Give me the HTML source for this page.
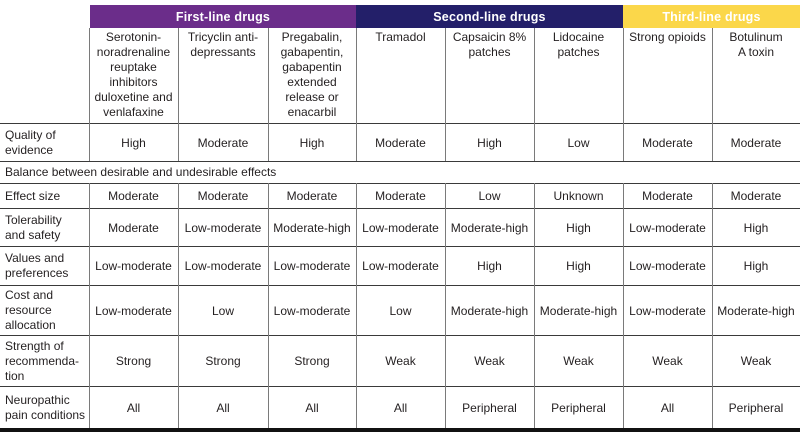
<!DOCTYPE html>
<html>
<head>
<meta charset="utf-8">
<style>
  html,body{margin:0;padding:0;background:#fff;}
  body{width:800px;height:438px;position:relative;overflow:hidden;
       font-family:"Liberation Sans",sans-serif;font-size:12px;color:#231f20;}
  .band{position:absolute;top:5px;height:23px;color:#fff;font-weight:bold;font-size:12.5px;
        display:flex;align-items:center;justify-content:center;letter-spacing:0.2px;}
  .h{position:absolute;height:1px;background:#3a3a3a;left:0;width:800px;}
  .v{position:absolute;width:1px;background:#7a7a7a;}
  .hc{position:absolute;top:30px;text-align:center;line-height:15px;white-space:nowrap;}
  .lab{position:absolute;left:5px;line-height:15px;white-space:nowrap;display:flex;align-items:center;}
  .c{position:absolute;display:flex;align-items:center;justify-content:center;white-space:nowrap;}
</style>
</head>
<body>
<!-- header bands -->
<div class="band" style="left:90px;width:266px;background:#6b2d8a;">First-line drugs</div>
<div class="band" style="left:356px;width:267px;background:#231f69;">Second-line drugs</div>
<div class="band" style="left:623px;width:177px;background:#fbd74a;">Third-line drugs</div>

<!-- horizontal lines -->
<div class="h" style="top:123px;"></div>
<div class="h" style="top:161px;"></div>
<div class="h" style="top:183px;"></div>
<div class="h" style="top:208px;"></div>
<div class="h" style="top:246px;"></div>
<div class="h" style="top:285px;"></div>
<div class="h" style="top:335px;"></div>
<div class="h" style="top:386px;"></div>
<div class="h" style="top:428px;height:4px;background:#111;"></div>

<!-- vertical lines -->
<div class="v" style="left:89px;top:28px;height:133px;"></div>
<div class="v" style="left:178px;top:28px;height:133px;"></div>
<div class="v" style="left:268px;top:28px;height:133px;"></div>
<div class="v" style="left:356px;top:28px;height:133px;"></div>
<div class="v" style="left:445px;top:28px;height:133px;"></div>
<div class="v" style="left:534px;top:28px;height:133px;"></div>
<div class="v" style="left:623px;top:28px;height:133px;"></div>
<div class="v" style="left:712px;top:28px;height:133px;"></div>

<div class="v" style="left:89px;top:183px;height:245px;"></div>
<div class="v" style="left:178px;top:183px;height:245px;"></div>
<div class="v" style="left:268px;top:183px;height:245px;"></div>
<div class="v" style="left:356px;top:183px;height:245px;"></div>
<div class="v" style="left:445px;top:183px;height:245px;"></div>
<div class="v" style="left:534px;top:183px;height:245px;"></div>
<div class="v" style="left:623px;top:183px;height:245px;"></div>
<div class="v" style="left:712px;top:183px;height:245px;"></div>

<!-- header cells -->
<div class="hc" style="left:89px;width:89px;">Serotonin-<br>noradrenaline<br>reuptake<br>inhibitors<br>duloxetine and<br>venlafaxine</div>
<div class="hc" style="left:178px;width:90px;">Tricyclin anti-<br>depressants</div>
<div class="hc" style="left:268px;width:88px;">Pregabalin,<br>gabapentin,<br>gabapentin<br>extended<br>release or<br>enacarbil</div>
<div class="hc" style="left:356px;width:89px;">Tramadol</div>
<div class="hc" style="left:445px;width:89px;">Capsaicin 8%<br>patches</div>
<div class="hc" style="left:534px;width:89px;">Lidocaine<br>patches</div>
<div class="hc" style="left:623px;width:89px;">Strong opioids</div>
<div class="hc" style="left:712px;width:88px;">Botulinum<br>A toxin</div>

<!-- left labels -->
<div class="lab" style="top:124px;height:37px;">Quality of<br>evidence</div>
<div class="lab" style="top:161px;height:22px;">Balance between desirable and undesirable effects</div>
<div class="lab" style="top:184px;height:24px;">Effect size</div>
<div class="lab" style="top:209px;height:37px;">Tolerability<br>and safety</div>
<div class="lab" style="top:247px;height:38px;">Values and<br>preferences</div>
<div class="lab" style="top:286px;height:49px;">Cost and<br>resource<br>allocation</div>
<div class="lab" style="top:336px;height:50px;">Strength of<br>recommenda-<br>tion</div>
<div class="lab" style="top:387px;height:41px;">Neuropathic<br>pain conditions</div>

<!-- Quality of evidence -->
<div class="c" style="left:89px;width:89px;top:124px;height:37px;">High</div>
<div class="c" style="left:178px;width:90px;top:124px;height:37px;">Moderate</div>
<div class="c" style="left:268px;width:88px;top:124px;height:37px;">High</div>
<div class="c" style="left:356px;width:89px;top:124px;height:37px;">Moderate</div>
<div class="c" style="left:445px;width:89px;top:124px;height:37px;">High</div>
<div class="c" style="left:534px;width:89px;top:124px;height:37px;">Low</div>
<div class="c" style="left:623px;width:89px;top:124px;height:37px;">Moderate</div>
<div class="c" style="left:712px;width:88px;top:124px;height:37px;">Moderate</div>

<!-- Effect size -->
<div class="c" style="left:89px;width:89px;top:184px;height:24px;">Moderate</div>
<div class="c" style="left:178px;width:90px;top:184px;height:24px;">Moderate</div>
<div class="c" style="left:268px;width:88px;top:184px;height:24px;">Moderate</div>
<div class="c" style="left:356px;width:89px;top:184px;height:24px;">Moderate</div>
<div class="c" style="left:445px;width:89px;top:184px;height:24px;">Low</div>
<div class="c" style="left:534px;width:89px;top:184px;height:24px;">Unknown</div>
<div class="c" style="left:623px;width:89px;top:184px;height:24px;">Moderate</div>
<div class="c" style="left:712px;width:88px;top:184px;height:24px;">Moderate</div>

<!-- Tolerability -->
<div class="c" style="left:89px;width:89px;top:209px;height:37px;">Moderate</div>
<div class="c" style="left:178px;width:90px;top:209px;height:37px;">Low-moderate</div>
<div class="c" style="left:268px;width:88px;top:209px;height:37px;">Moderate-high</div>
<div class="c" style="left:356px;width:89px;top:209px;height:37px;">Low-moderate</div>
<div class="c" style="left:445px;width:89px;top:209px;height:37px;">Moderate-high</div>
<div class="c" style="left:534px;width:89px;top:209px;height:37px;">High</div>
<div class="c" style="left:623px;width:89px;top:209px;height:37px;">Low-moderate</div>
<div class="c" style="left:712px;width:88px;top:209px;height:37px;">High</div>

<!-- Values -->
<div class="c" style="left:89px;width:89px;top:247px;height:38px;">Low-moderate</div>
<div class="c" style="left:178px;width:90px;top:247px;height:38px;">Low-moderate</div>
<div class="c" style="left:268px;width:88px;top:247px;height:38px;">Low-moderate</div>
<div class="c" style="left:356px;width:89px;top:247px;height:38px;">Low-moderate</div>
<div class="c" style="left:445px;width:89px;top:247px;height:38px;">High</div>
<div class="c" style="left:534px;width:89px;top:247px;height:38px;">High</div>
<div class="c" style="left:623px;width:89px;top:247px;height:38px;">Low-moderate</div>
<div class="c" style="left:712px;width:88px;top:247px;height:38px;">High</div>

<!-- Cost -->
<div class="c" style="left:89px;width:89px;top:286px;height:49px;">Low-moderate</div>
<div class="c" style="left:178px;width:90px;top:286px;height:49px;">Low</div>
<div class="c" style="left:268px;width:88px;top:286px;height:49px;">Low-moderate</div>
<div class="c" style="left:356px;width:89px;top:286px;height:49px;">Low</div>
<div class="c" style="left:445px;width:89px;top:286px;height:49px;">Moderate-high</div>
<div class="c" style="left:534px;width:89px;top:286px;height:49px;">Moderate-high</div>
<div class="c" style="left:623px;width:89px;top:286px;height:49px;">Low-moderate</div>
<div class="c" style="left:712px;width:88px;top:286px;height:49px;">Moderate-high</div>

<!-- Strength -->
<div class="c" style="left:89px;width:89px;top:336px;height:50px;">Strong</div>
<div class="c" style="left:178px;width:90px;top:336px;height:50px;">Strong</div>
<div class="c" style="left:268px;width:88px;top:336px;height:50px;">Strong</div>
<div class="c" style="left:356px;width:89px;top:336px;height:50px;">Weak</div>
<div class="c" style="left:445px;width:89px;top:336px;height:50px;">Weak</div>
<div class="c" style="left:534px;width:89px;top:336px;height:50px;">Weak</div>
<div class="c" style="left:623px;width:89px;top:336px;height:50px;">Weak</div>
<div class="c" style="left:712px;width:88px;top:336px;height:50px;">Weak</div>

<!-- Neuropathic -->
<div class="c" style="left:89px;width:89px;top:387px;height:41px;">All</div>
<div class="c" style="left:178px;width:90px;top:387px;height:41px;">All</div>
<div class="c" style="left:268px;width:88px;top:387px;height:41px;">All</div>
<div class="c" style="left:356px;width:89px;top:387px;height:41px;">All</div>
<div class="c" style="left:445px;width:89px;top:387px;height:41px;">Peripheral</div>
<div class="c" style="left:534px;width:89px;top:387px;height:41px;">Peripheral</div>
<div class="c" style="left:623px;width:89px;top:387px;height:41px;">All</div>
<div class="c" style="left:712px;width:88px;top:387px;height:41px;">Peripheral</div>
</body>
</html>
